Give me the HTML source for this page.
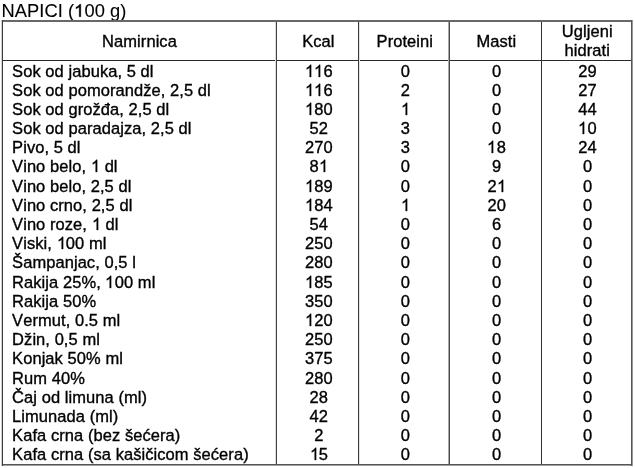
<!DOCTYPE html>
<html><head><meta charset="utf-8"><style>
html,body{margin:0;padding:0;background:#fff;}
body{filter:grayscale(1);font-kerning:none;width:635px;height:468px;position:relative;overflow:hidden;font-family:"Liberation Sans",sans-serif;color:#000;}
.l{position:absolute;}
.t{position:absolute;white-space:nowrap;line-height:20px;height:20px;-webkit-text-stroke:0.35px #000;letter-spacing:0.06px;font-size:16.5px;}
.c{text-align:center;}
.o1{position:relative;color:transparent;-webkit-text-stroke-color:transparent;}
.o1 svg{position:absolute;left:0;top:0.177em;width:0.5562em;height:0.728em;overflow:visible;}
.o1.tt svg{top:0.215em;height:0.69em;}
.o1 path{fill:#000;stroke:#000;stroke-width:43;}
</style></head><body>
<div class="t" style="left:1.60px;top:1.00px;font-size:18.3px;-webkit-text-stroke:0.1px #000;">NAPICI (<span class="o1 tt">1<svg viewBox="0 -1491 1139 1491" preserveAspectRatio="none"><path d="M763 0L583 0L583 -1147Q518 -1085 412 -1023Q307 -961 223 -930L223 -1104Q374 -1175 487 -1276Q600 -1377 647 -1472L763 -1472Z"/></svg></span>00 g)</div>
<div class="l" style="left:1px;top:20px;width:632px;height:2px;background:#686868"></div>
<div class="l" style="left:1px;top:464px;width:632px;height:1px;background:#555"></div>
<div class="l" style="left:1px;top:465px;width:632px;height:1px;background:#a0a0a0"></div>
<div class="l" style="left:3px;top:60px;width:628px;height:1px;background:#282828"></div>
<div class="l" style="left:1px;top:20px;width:1px;height:446px;background:#d0d0d0"></div>
<div class="l" style="left:2px;top:20px;width:1px;height:446px;background:#3a3a3a"></div>
<div class="l" style="left:275px;top:22px;width:1px;height:442px;background:#dcdcdc"></div>
<div class="l" style="left:276px;top:22px;width:1px;height:442px;background:#404040"></div>
<div class="l" style="left:358px;top:22px;width:1px;height:442px;background:#383838"></div>
<div class="l" style="left:359px;top:22px;width:1px;height:442px;background:#e4e4e4"></div>
<div class="l" style="left:448px;top:22px;width:1px;height:442px;background:#a8a8a8"></div>
<div class="l" style="left:449px;top:22px;width:1px;height:442px;background:#4a4a4a"></div>
<div class="l" style="left:541px;top:22px;width:1px;height:442px;background:#303030"></div>
<div class="l" style="left:631px;top:20px;width:1px;height:446px;background:#555"></div>
<div class="l" style="left:632px;top:20px;width:1px;height:446px;background:#999"></div>
<div class="t c" style="left:2.50px;top:31.18px;width:274px;transform:scaleY(1.03);transform-origin:0 15.72px;">Namirnica</div>
<div class="t c" style="left:277.30px;top:31.18px;width:82px;transform:scaleY(1.03);transform-origin:0 15.72px;">Kcal</div>
<div class="t c" style="left:359.30px;top:31.18px;width:91px;transform:scaleY(1.03);transform-origin:0 15.72px;">Proteini</div>
<div class="t c" style="left:450.30px;top:31.18px;width:92px;transform:scaleY(1.03);transform-origin:0 15.72px;">Masti</div>
<div class="t c" style="left:542.30px;top:21.28px;width:90px;transform:scaleY(1.03);transform-origin:0 15.72px;">Ugljeni</div>
<div class="t c" style="left:542.30px;top:39.88px;width:90px;transform:scaleY(1.03);transform-origin:0 15.72px;">hidrati</div>
<div class="t" style="left:12.10px;top:60.58px;transform:scaleY(1.03);transform-origin:0 15.72px;">Sok od jabuka, 5 dl</div>
<div class="t c" style="left:277.80px;top:60.58px;width:82px;transform:scaleY(1.03);transform-origin:0 15.72px;"><span class="o1">1<svg viewBox="0 -1491 1139 1491" preserveAspectRatio="none"><path d="M763 0L583 0L583 -1147Q518 -1085 412 -1023Q307 -961 223 -930L223 -1104Q374 -1175 487 -1276Q600 -1377 647 -1472L763 -1472Z"/></svg></span><span class="o1">1<svg viewBox="0 -1491 1139 1491" preserveAspectRatio="none"><path d="M763 0L583 0L583 -1147Q518 -1085 412 -1023Q307 -961 223 -930L223 -1104Q374 -1175 487 -1276Q600 -1377 647 -1472L763 -1472Z"/></svg></span>6</div>
<div class="t c" style="left:359.90px;top:60.58px;width:91px;transform:scaleY(1.03);transform-origin:0 15.72px;">0</div>
<div class="t c" style="left:450.70px;top:60.58px;width:92px;transform:scaleY(1.03);transform-origin:0 15.72px;">0</div>
<div class="t c" style="left:542.60px;top:60.58px;width:90px;transform:scaleY(1.03);transform-origin:0 15.72px;">29</div>
<div class="t" style="left:12.10px;top:79.58px;transform:scaleY(1.03);transform-origin:0 15.72px;">Sok od pomorandže, 2,5 dl</div>
<div class="t c" style="left:277.80px;top:79.58px;width:82px;transform:scaleY(1.03);transform-origin:0 15.72px;"><span class="o1">1<svg viewBox="0 -1491 1139 1491" preserveAspectRatio="none"><path d="M763 0L583 0L583 -1147Q518 -1085 412 -1023Q307 -961 223 -930L223 -1104Q374 -1175 487 -1276Q600 -1377 647 -1472L763 -1472Z"/></svg></span><span class="o1">1<svg viewBox="0 -1491 1139 1491" preserveAspectRatio="none"><path d="M763 0L583 0L583 -1147Q518 -1085 412 -1023Q307 -961 223 -930L223 -1104Q374 -1175 487 -1276Q600 -1377 647 -1472L763 -1472Z"/></svg></span>6</div>
<div class="t c" style="left:359.90px;top:79.58px;width:91px;transform:scaleY(1.03);transform-origin:0 15.72px;">2</div>
<div class="t c" style="left:450.70px;top:79.58px;width:92px;transform:scaleY(1.03);transform-origin:0 15.72px;">0</div>
<div class="t c" style="left:542.60px;top:79.58px;width:90px;transform:scaleY(1.03);transform-origin:0 15.72px;">27</div>
<div class="t" style="left:12.10px;top:99.08px;transform:scaleY(1.03);transform-origin:0 15.72px;">Sok od grožđa, 2,5 dl</div>
<div class="t c" style="left:277.80px;top:99.08px;width:82px;transform:scaleY(1.03);transform-origin:0 15.72px;"><span class="o1">1<svg viewBox="0 -1491 1139 1491" preserveAspectRatio="none"><path d="M763 0L583 0L583 -1147Q518 -1085 412 -1023Q307 -961 223 -930L223 -1104Q374 -1175 487 -1276Q600 -1377 647 -1472L763 -1472Z"/></svg></span>80</div>
<div class="t c" style="left:359.90px;top:99.08px;width:91px;transform:scaleY(1.03);transform-origin:0 15.72px;"><span class="o1">1<svg viewBox="0 -1491 1139 1491" preserveAspectRatio="none"><path d="M763 0L583 0L583 -1147Q518 -1085 412 -1023Q307 -961 223 -930L223 -1104Q374 -1175 487 -1276Q600 -1377 647 -1472L763 -1472Z"/></svg></span></div>
<div class="t c" style="left:450.70px;top:99.08px;width:92px;transform:scaleY(1.03);transform-origin:0 15.72px;">0</div>
<div class="t c" style="left:542.60px;top:99.08px;width:90px;transform:scaleY(1.03);transform-origin:0 15.72px;">44</div>
<div class="t" style="left:12.10px;top:117.68px;transform:scaleY(1.03);transform-origin:0 15.72px;">Sok od paradajza, 2,5 dl</div>
<div class="t c" style="left:277.80px;top:117.68px;width:82px;transform:scaleY(1.03);transform-origin:0 15.72px;">52</div>
<div class="t c" style="left:359.90px;top:117.68px;width:91px;transform:scaleY(1.03);transform-origin:0 15.72px;">3</div>
<div class="t c" style="left:450.70px;top:117.68px;width:92px;transform:scaleY(1.03);transform-origin:0 15.72px;">0</div>
<div class="t c" style="left:542.60px;top:117.68px;width:90px;transform:scaleY(1.03);transform-origin:0 15.72px;"><span class="o1">1<svg viewBox="0 -1491 1139 1491" preserveAspectRatio="none"><path d="M763 0L583 0L583 -1147Q518 -1085 412 -1023Q307 -961 223 -930L223 -1104Q374 -1175 487 -1276Q600 -1377 647 -1472L763 -1472Z"/></svg></span>0</div>
<div class="t" style="left:12.10px;top:137.38px;transform:scaleY(1.03);transform-origin:0 15.72px;">Pivo, 5 dl</div>
<div class="t c" style="left:277.80px;top:137.38px;width:82px;transform:scaleY(1.03);transform-origin:0 15.72px;">270</div>
<div class="t c" style="left:359.90px;top:137.38px;width:91px;transform:scaleY(1.03);transform-origin:0 15.72px;">3</div>
<div class="t c" style="left:450.70px;top:137.38px;width:92px;transform:scaleY(1.03);transform-origin:0 15.72px;"><span class="o1">1<svg viewBox="0 -1491 1139 1491" preserveAspectRatio="none"><path d="M763 0L583 0L583 -1147Q518 -1085 412 -1023Q307 -961 223 -930L223 -1104Q374 -1175 487 -1276Q600 -1377 647 -1472L763 -1472Z"/></svg></span>8</div>
<div class="t c" style="left:542.60px;top:137.38px;width:90px;transform:scaleY(1.03);transform-origin:0 15.72px;">24</div>
<div class="t" style="left:12.10px;top:156.18px;transform:scaleY(1.03);transform-origin:0 15.72px;">Vino belo, <span class="o1">1<svg viewBox="0 -1491 1139 1491" preserveAspectRatio="none"><path d="M763 0L583 0L583 -1147Q518 -1085 412 -1023Q307 -961 223 -930L223 -1104Q374 -1175 487 -1276Q600 -1377 647 -1472L763 -1472Z"/></svg></span> dl</div>
<div class="t c" style="left:277.80px;top:156.18px;width:82px;transform:scaleY(1.03);transform-origin:0 15.72px;">8<span class="o1">1<svg viewBox="0 -1491 1139 1491" preserveAspectRatio="none"><path d="M763 0L583 0L583 -1147Q518 -1085 412 -1023Q307 -961 223 -930L223 -1104Q374 -1175 487 -1276Q600 -1377 647 -1472L763 -1472Z"/></svg></span></div>
<div class="t c" style="left:359.90px;top:156.18px;width:91px;transform:scaleY(1.03);transform-origin:0 15.72px;">0</div>
<div class="t c" style="left:450.70px;top:156.18px;width:92px;transform:scaleY(1.03);transform-origin:0 15.72px;">9</div>
<div class="t c" style="left:542.60px;top:156.18px;width:90px;transform:scaleY(1.03);transform-origin:0 15.72px;">0</div>
<div class="t" style="left:12.10px;top:175.98px;transform:scaleY(1.03);transform-origin:0 15.72px;">Vino belo, 2,5 dl</div>
<div class="t c" style="left:277.80px;top:175.98px;width:82px;transform:scaleY(1.03);transform-origin:0 15.72px;"><span class="o1">1<svg viewBox="0 -1491 1139 1491" preserveAspectRatio="none"><path d="M763 0L583 0L583 -1147Q518 -1085 412 -1023Q307 -961 223 -930L223 -1104Q374 -1175 487 -1276Q600 -1377 647 -1472L763 -1472Z"/></svg></span>89</div>
<div class="t c" style="left:359.90px;top:175.98px;width:91px;transform:scaleY(1.03);transform-origin:0 15.72px;">0</div>
<div class="t c" style="left:450.70px;top:175.98px;width:92px;transform:scaleY(1.03);transform-origin:0 15.72px;">2<span class="o1">1<svg viewBox="0 -1491 1139 1491" preserveAspectRatio="none"><path d="M763 0L583 0L583 -1147Q518 -1085 412 -1023Q307 -961 223 -930L223 -1104Q374 -1175 487 -1276Q600 -1377 647 -1472L763 -1472Z"/></svg></span></div>
<div class="t c" style="left:542.60px;top:175.98px;width:90px;transform:scaleY(1.03);transform-origin:0 15.72px;">0</div>
<div class="t" style="left:12.10px;top:194.88px;transform:scaleY(1.03);transform-origin:0 15.72px;">Vino crno, 2,5 dl</div>
<div class="t c" style="left:277.80px;top:194.88px;width:82px;transform:scaleY(1.03);transform-origin:0 15.72px;"><span class="o1">1<svg viewBox="0 -1491 1139 1491" preserveAspectRatio="none"><path d="M763 0L583 0L583 -1147Q518 -1085 412 -1023Q307 -961 223 -930L223 -1104Q374 -1175 487 -1276Q600 -1377 647 -1472L763 -1472Z"/></svg></span>84</div>
<div class="t c" style="left:359.90px;top:194.88px;width:91px;transform:scaleY(1.03);transform-origin:0 15.72px;"><span class="o1">1<svg viewBox="0 -1491 1139 1491" preserveAspectRatio="none"><path d="M763 0L583 0L583 -1147Q518 -1085 412 -1023Q307 -961 223 -930L223 -1104Q374 -1175 487 -1276Q600 -1377 647 -1472L763 -1472Z"/></svg></span></div>
<div class="t c" style="left:450.70px;top:194.88px;width:92px;transform:scaleY(1.03);transform-origin:0 15.72px;">20</div>
<div class="t c" style="left:542.60px;top:194.88px;width:90px;transform:scaleY(1.03);transform-origin:0 15.72px;">0</div>
<div class="t" style="left:12.10px;top:213.88px;transform:scaleY(1.03);transform-origin:0 15.72px;">Vino roze, <span class="o1">1<svg viewBox="0 -1491 1139 1491" preserveAspectRatio="none"><path d="M763 0L583 0L583 -1147Q518 -1085 412 -1023Q307 -961 223 -930L223 -1104Q374 -1175 487 -1276Q600 -1377 647 -1472L763 -1472Z"/></svg></span> dl</div>
<div class="t c" style="left:277.80px;top:213.88px;width:82px;transform:scaleY(1.03);transform-origin:0 15.72px;">54</div>
<div class="t c" style="left:359.90px;top:213.88px;width:91px;transform:scaleY(1.03);transform-origin:0 15.72px;">0</div>
<div class="t c" style="left:450.70px;top:213.88px;width:92px;transform:scaleY(1.03);transform-origin:0 15.72px;">6</div>
<div class="t c" style="left:542.60px;top:213.88px;width:90px;transform:scaleY(1.03);transform-origin:0 15.72px;">0</div>
<div class="t" style="left:12.10px;top:233.28px;transform:scaleY(1.03);transform-origin:0 15.72px;">Viski, <span class="o1">1<svg viewBox="0 -1491 1139 1491" preserveAspectRatio="none"><path d="M763 0L583 0L583 -1147Q518 -1085 412 -1023Q307 -961 223 -930L223 -1104Q374 -1175 487 -1276Q600 -1377 647 -1472L763 -1472Z"/></svg></span>00 ml</div>
<div class="t c" style="left:277.80px;top:233.28px;width:82px;transform:scaleY(1.03);transform-origin:0 15.72px;">250</div>
<div class="t c" style="left:359.90px;top:233.28px;width:91px;transform:scaleY(1.03);transform-origin:0 15.72px;">0</div>
<div class="t c" style="left:450.70px;top:233.28px;width:92px;transform:scaleY(1.03);transform-origin:0 15.72px;">0</div>
<div class="t c" style="left:542.60px;top:233.28px;width:90px;transform:scaleY(1.03);transform-origin:0 15.72px;">0</div>
<div class="t" style="left:12.10px;top:251.98px;transform:scaleY(1.03);transform-origin:0 15.72px;">Šampanjac, 0,5 l</div>
<div class="t c" style="left:277.80px;top:251.98px;width:82px;transform:scaleY(1.03);transform-origin:0 15.72px;">280</div>
<div class="t c" style="left:359.90px;top:251.98px;width:91px;transform:scaleY(1.03);transform-origin:0 15.72px;">0</div>
<div class="t c" style="left:450.70px;top:251.98px;width:92px;transform:scaleY(1.03);transform-origin:0 15.72px;">0</div>
<div class="t c" style="left:542.60px;top:251.98px;width:90px;transform:scaleY(1.03);transform-origin:0 15.72px;">0</div>
<div class="t" style="left:12.10px;top:271.68px;transform:scaleY(1.03);transform-origin:0 15.72px;">Rakija 25%, <span class="o1">1<svg viewBox="0 -1491 1139 1491" preserveAspectRatio="none"><path d="M763 0L583 0L583 -1147Q518 -1085 412 -1023Q307 -961 223 -930L223 -1104Q374 -1175 487 -1276Q600 -1377 647 -1472L763 -1472Z"/></svg></span>00 ml</div>
<div class="t c" style="left:277.80px;top:271.68px;width:82px;transform:scaleY(1.03);transform-origin:0 15.72px;"><span class="o1">1<svg viewBox="0 -1491 1139 1491" preserveAspectRatio="none"><path d="M763 0L583 0L583 -1147Q518 -1085 412 -1023Q307 -961 223 -930L223 -1104Q374 -1175 487 -1276Q600 -1377 647 -1472L763 -1472Z"/></svg></span>85</div>
<div class="t c" style="left:359.90px;top:271.68px;width:91px;transform:scaleY(1.03);transform-origin:0 15.72px;">0</div>
<div class="t c" style="left:450.70px;top:271.68px;width:92px;transform:scaleY(1.03);transform-origin:0 15.72px;">0</div>
<div class="t c" style="left:542.60px;top:271.68px;width:90px;transform:scaleY(1.03);transform-origin:0 15.72px;">0</div>
<div class="t" style="left:12.10px;top:290.68px;transform:scaleY(1.03);transform-origin:0 15.72px;">Rakija 50%</div>
<div class="t c" style="left:277.80px;top:290.68px;width:82px;transform:scaleY(1.03);transform-origin:0 15.72px;">350</div>
<div class="t c" style="left:359.90px;top:290.68px;width:91px;transform:scaleY(1.03);transform-origin:0 15.72px;">0</div>
<div class="t c" style="left:450.70px;top:290.68px;width:92px;transform:scaleY(1.03);transform-origin:0 15.72px;">0</div>
<div class="t c" style="left:542.60px;top:290.68px;width:90px;transform:scaleY(1.03);transform-origin:0 15.72px;">0</div>
<div class="t" style="left:12.10px;top:309.88px;transform:scaleY(1.03);transform-origin:0 15.72px;">Vermut, 0.5 ml</div>
<div class="t c" style="left:277.80px;top:309.88px;width:82px;transform:scaleY(1.03);transform-origin:0 15.72px;"><span class="o1">1<svg viewBox="0 -1491 1139 1491" preserveAspectRatio="none"><path d="M763 0L583 0L583 -1147Q518 -1085 412 -1023Q307 -961 223 -930L223 -1104Q374 -1175 487 -1276Q600 -1377 647 -1472L763 -1472Z"/></svg></span>20</div>
<div class="t c" style="left:359.90px;top:309.88px;width:91px;transform:scaleY(1.03);transform-origin:0 15.72px;">0</div>
<div class="t c" style="left:450.70px;top:309.88px;width:92px;transform:scaleY(1.03);transform-origin:0 15.72px;">0</div>
<div class="t c" style="left:542.60px;top:309.88px;width:90px;transform:scaleY(1.03);transform-origin:0 15.72px;">0</div>
<div class="t" style="left:12.10px;top:329.08px;transform:scaleY(1.03);transform-origin:0 15.72px;">Džin, 0,5 ml</div>
<div class="t c" style="left:277.80px;top:329.08px;width:82px;transform:scaleY(1.03);transform-origin:0 15.72px;">250</div>
<div class="t c" style="left:359.90px;top:329.08px;width:91px;transform:scaleY(1.03);transform-origin:0 15.72px;">0</div>
<div class="t c" style="left:450.70px;top:329.08px;width:92px;transform:scaleY(1.03);transform-origin:0 15.72px;">0</div>
<div class="t c" style="left:542.60px;top:329.08px;width:90px;transform:scaleY(1.03);transform-origin:0 15.72px;">0</div>
<div class="t" style="left:12.10px;top:348.48px;transform:scaleY(1.03);transform-origin:0 15.72px;">Konjak 50% ml</div>
<div class="t c" style="left:277.80px;top:348.48px;width:82px;transform:scaleY(1.03);transform-origin:0 15.72px;">375</div>
<div class="t c" style="left:359.90px;top:348.48px;width:91px;transform:scaleY(1.03);transform-origin:0 15.72px;">0</div>
<div class="t c" style="left:450.70px;top:348.48px;width:92px;transform:scaleY(1.03);transform-origin:0 15.72px;">0</div>
<div class="t c" style="left:542.60px;top:348.48px;width:90px;transform:scaleY(1.03);transform-origin:0 15.72px;">0</div>
<div class="t" style="left:12.10px;top:367.58px;transform:scaleY(1.03);transform-origin:0 15.72px;">Rum 40%</div>
<div class="t c" style="left:277.80px;top:367.58px;width:82px;transform:scaleY(1.03);transform-origin:0 15.72px;">280</div>
<div class="t c" style="left:359.90px;top:367.58px;width:91px;transform:scaleY(1.03);transform-origin:0 15.72px;">0</div>
<div class="t c" style="left:450.70px;top:367.58px;width:92px;transform:scaleY(1.03);transform-origin:0 15.72px;">0</div>
<div class="t c" style="left:542.60px;top:367.58px;width:90px;transform:scaleY(1.03);transform-origin:0 15.72px;">0</div>
<div class="t" style="left:12.10px;top:386.98px;transform:scaleY(1.03);transform-origin:0 15.72px;">Čaj od limuna (ml)</div>
<div class="t c" style="left:277.80px;top:386.98px;width:82px;transform:scaleY(1.03);transform-origin:0 15.72px;">28</div>
<div class="t c" style="left:359.90px;top:386.98px;width:91px;transform:scaleY(1.03);transform-origin:0 15.72px;">0</div>
<div class="t c" style="left:450.70px;top:386.98px;width:92px;transform:scaleY(1.03);transform-origin:0 15.72px;">0</div>
<div class="t c" style="left:542.60px;top:386.98px;width:90px;transform:scaleY(1.03);transform-origin:0 15.72px;">0</div>
<div class="t" style="left:12.10px;top:405.98px;transform:scaleY(1.03);transform-origin:0 15.72px;">Limunada (ml)</div>
<div class="t c" style="left:277.80px;top:405.98px;width:82px;transform:scaleY(1.03);transform-origin:0 15.72px;">42</div>
<div class="t c" style="left:359.90px;top:405.98px;width:91px;transform:scaleY(1.03);transform-origin:0 15.72px;">0</div>
<div class="t c" style="left:450.70px;top:405.98px;width:92px;transform:scaleY(1.03);transform-origin:0 15.72px;">0</div>
<div class="t c" style="left:542.60px;top:405.98px;width:90px;transform:scaleY(1.03);transform-origin:0 15.72px;">0</div>
<div class="t" style="left:12.10px;top:425.38px;transform:scaleY(1.03);transform-origin:0 15.72px;">Kafa crna (bez šećera)</div>
<div class="t c" style="left:277.80px;top:425.38px;width:82px;transform:scaleY(1.03);transform-origin:0 15.72px;">2</div>
<div class="t c" style="left:359.90px;top:425.38px;width:91px;transform:scaleY(1.03);transform-origin:0 15.72px;">0</div>
<div class="t c" style="left:450.70px;top:425.38px;width:92px;transform:scaleY(1.03);transform-origin:0 15.72px;">0</div>
<div class="t c" style="left:542.60px;top:425.38px;width:90px;transform:scaleY(1.03);transform-origin:0 15.72px;">0</div>
<div class="t" style="left:12.10px;top:444.38px;transform:scaleY(1.03);transform-origin:0 15.72px;">Kafa crna (sa kašičicom šećera)</div>
<div class="t c" style="left:277.80px;top:444.38px;width:82px;transform:scaleY(1.03);transform-origin:0 15.72px;"><span class="o1">1<svg viewBox="0 -1491 1139 1491" preserveAspectRatio="none"><path d="M763 0L583 0L583 -1147Q518 -1085 412 -1023Q307 -961 223 -930L223 -1104Q374 -1175 487 -1276Q600 -1377 647 -1472L763 -1472Z"/></svg></span>5</div>
<div class="t c" style="left:359.90px;top:444.38px;width:91px;transform:scaleY(1.03);transform-origin:0 15.72px;">0</div>
<div class="t c" style="left:450.70px;top:444.38px;width:92px;transform:scaleY(1.03);transform-origin:0 15.72px;">0</div>
<div class="t c" style="left:542.60px;top:444.38px;width:90px;transform:scaleY(1.03);transform-origin:0 15.72px;">0</div>
</body></html>
